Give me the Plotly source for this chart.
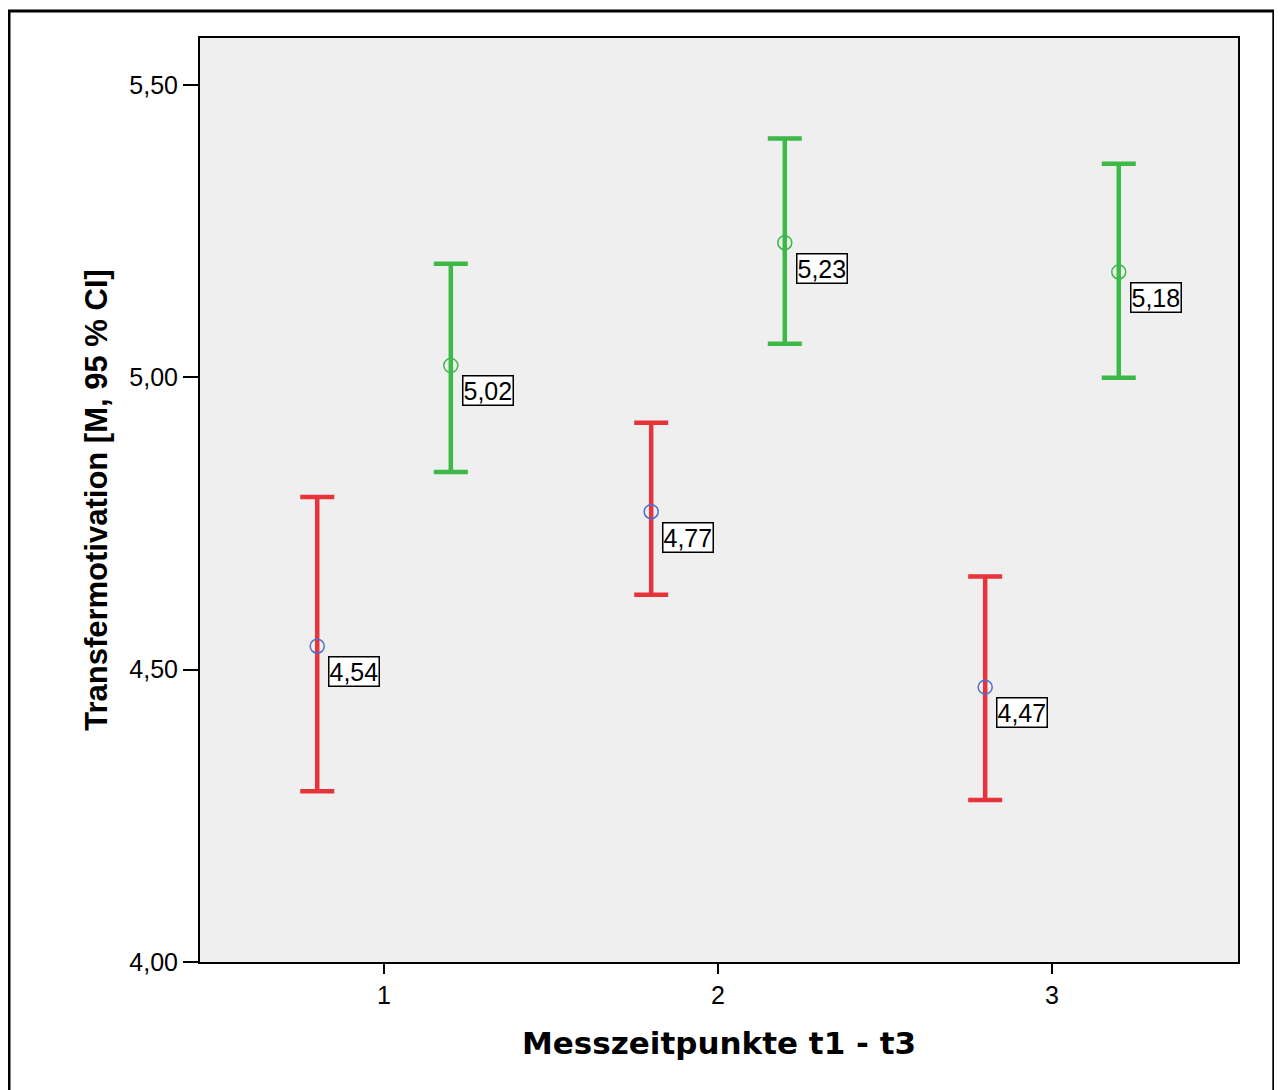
import plotly.graph_objects as go

# Data
categories = [1, 2, 3]
tick_labels_x = ["1", "2", "3"]
group_offsets = [-0.2, 0.2]
red_means = [4.54, 4.77, 4.47]
red_upper = [4.795, 4.922, 4.659]
red_lower = [4.292, 4.628, 4.277]
green_means = [5.02, 5.23, 5.18]
green_upper = [5.194, 5.408, 5.365]
green_lower = [4.838, 5.057, 4.999]
y_tickvals = [4.0, 4.5, 5.0, 5.5]
y_ticktext = ["4,00", "4,50", "5,00", "5,50"]

RED = "#e8333a"
GREEN = "#3cb947"

fig = go.Figure()

def add_group(means, upper, lower, offset, color, marker_color):
    xs = [c + offset for c in categories]
    fig.add_trace(go.Scatter(
        x=xs, y=means, mode="markers",
        marker=dict(symbol="circle-open", size=14, color=marker_color, line=dict(width=1.5)),
        error_y=dict(type="data", symmetric=False,
                     array=[u - m for u, m in zip(upper, means)],
                     arrayminus=[m - l for m, l in zip(means, lower)],
                     color=color, thickness=4.5, width=17),
        showlegend=False, hoverinfo="skip"))
    for x, m in zip(xs, means):
        fig.add_annotation(x=x, y=m, xref="x", yref="y",
                           text=f"{m:.2f}".replace(".", ","),
                           showarrow=False, xanchor="left", yanchor="top",
                           xshift=11, yshift=-10,
                           bgcolor="white", bordercolor="black", borderwidth=1.5,
                           borderpad=0,
                           font=dict(family="Liberation Sans, Arial", size=25, color="black"))

add_group(red_means, red_upper, red_lower, group_offsets[0], RED, "#4a6fd0")
add_group(green_means, green_upper, green_lower, group_offsets[1], GREEN, GREEN)

# outer frame
fig.add_shape(type="rect", xref="paper", yref="paper",
              x0=-0.184, x1=1.0345, y0=-0.3, y1=1.0292,
              line=dict(color="black", width=3), fillcolor="rgba(0,0,0,0)", layer="below")

fig.update_layout(
    width=1274, height=1082,
    margin=dict(l=192, r=44, t=30, b=128),
    paper_bgcolor="white", plot_bgcolor="#efefef",
    font=dict(family="Liberation Sans, Arial", color="black"),
    xaxis=dict(range=[0.449, 3.557], tickvals=categories, ticktext=tick_labels_x,
               ticks="outside", ticklen=10, tickwidth=2, tickcolor="black",
               showline=True, mirror=True, linecolor="black", linewidth=2,
               showgrid=False, zeroline=False, tickfont=dict(size=25),
               title=dict(text="<b>Messzeitpunkte t1 - t3</b>",
                          font=dict(family="DejaVu Sans, Verdana", size=31), standoff=24)),
    yaxis=dict(range=[4.0, 5.58], tickvals=y_tickvals, ticktext=y_ticktext,
               ticks="outside", ticklen=15, tickwidth=2, tickcolor="black",
               showline=True, mirror=True, linecolor="black", linewidth=2,
               showgrid=False, zeroline=False, tickfont=dict(size=25),
               title=dict(text="<b>Transfermotivation [M, 95 % CI]</b>",
                          font=dict(family="Liberation Sans, Arial", size=31), standoff=12)),
)

fig.write_html("out.html")
